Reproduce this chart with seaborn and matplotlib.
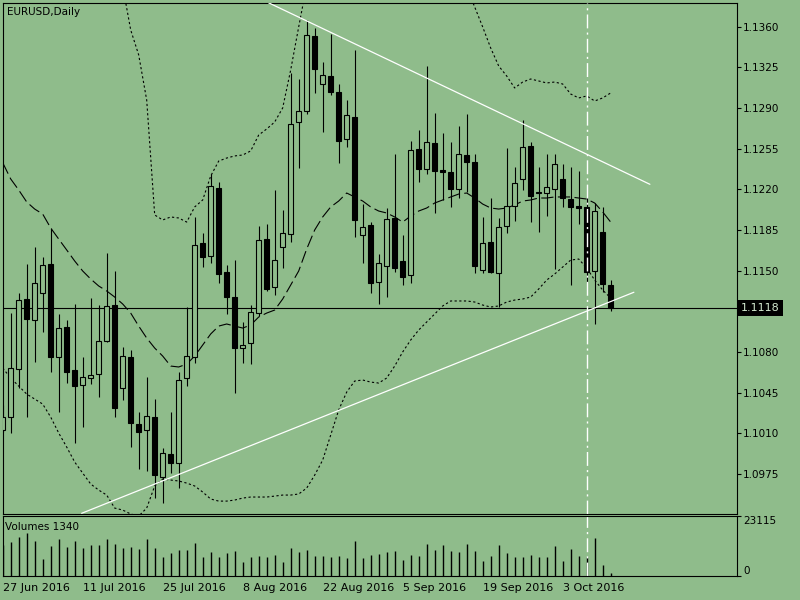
import numpy as np
import matplotlib
matplotlib.use("Agg")
import matplotlib.pyplot as plt
import matplotlib.transforms as mtransforms
import seaborn as sns

nan = np.nan

# daily EURUSD bars, 27 Jun 2016 .. 11 Oct 2016
opens = [1.10130, 1.10241, 1.10654, 1.11257, 1.11076, 1.11308, 1.11558, 1.10758, 1.11016, 1.10646,
         1.10517, 1.10577, 1.10611, 1.10895, 1.11205, 1.10491, 1.10758, 1.10181, 1.10130, 1.10241,
         1.09725, 1.09923, 1.09845, 1.10577, 1.10758, 1.11739, 1.11627, 1.12212, 1.11489, 1.11274,
         1.10835, 1.10878, 1.11136, 1.11773, 1.11360, 1.11704, 1.11816, 1.12780, 1.12875, 1.13520,
         1.13107, 1.13176, 1.13038, 1.12634, 1.12823, 1.11808, 1.11894, 1.11403, 1.11541, 1.11954,
         1.11584, 1.11463, 1.12548, 1.12376, 1.12599, 1.12367, 1.12350, 1.12204, 1.12496, 1.12436,
         1.11506, 1.11747, 1.11481, 1.11885, 1.12057, 1.12290, 1.12574, 1.12178, 1.12169, 1.12204,
         1.12290, 1.12117, 1.12057, 1.12049, 1.11498, 1.11833, 1.11377]
highs = [1.10345, 1.11136, 1.11308, 1.11558, 1.11704, 1.11618, 1.11868, 1.11128, 1.11076, 1.11214,
         1.10758, 1.11265, 1.11205, 1.11653, 1.11498, 1.10844, 1.10818, 1.10284, 1.10586, 1.10396,
         1.09975, 1.10284, 1.10629, 1.11188, 1.11963, 1.11825, 1.12333, 1.12264, 1.11549, 1.11592,
         1.11059, 1.11205, 1.11885, 1.11902, 1.12195, 1.12023, 1.13202, 1.13150, 1.13658, 1.13589,
         1.13296, 1.13537, 1.13107, 1.12969, 1.13400, 1.12074, 1.11919, 1.11644, 1.12040, 1.12505,
         1.11808, 1.12617, 1.12711, 1.13262, 1.12858, 1.12685, 1.12608, 1.12746, 1.12849, 1.12505,
         1.11963, 1.12126, 1.11954, 1.12556, 1.12393, 1.12797, 1.12608, 1.12393, 1.12505, 1.12505,
         1.12419, 1.12393, 1.12358, 1.12135, 1.12083, 1.12049, 1.11420]
lows = [1.10112, 1.10104, 1.10491, 1.10241, 1.10715, 1.10973, 1.10629, 1.10284, 1.10534, 1.10018,
        1.10155, 1.10525, 1.10413, 1.10887, 1.10241, 1.10388, 1.09983, 1.09794, 1.09777, 1.09544,
        1.09501, 1.09759, 1.09630, 1.10508, 1.10706, 1.11532, 1.11567, 1.11394, 1.11128, 1.10448,
        1.10706, 1.10697, 1.11111, 1.11326, 1.11291, 1.11524, 1.11747, 1.12384, 1.12849, 1.13030,
        1.12694, 1.13012, 1.12427, 1.12565, 1.11790, 1.11567, 1.11308, 1.11214, 1.11274, 1.11489,
        1.11377, 1.11394, 1.12264, 1.12333, 1.11997, 1.12109, 1.12049, 1.12126, 1.12178, 1.11481,
        1.11481, 1.11481, 1.11188, 1.11825, 1.11928, 1.12195, 1.11919, 1.11833, 1.11971, 1.11515,
        1.12049, 1.11377, 1.11902, 1.11394, 1.11042, 1.11317, 1.11154]
closes = [1.10241, 1.10663, 1.11248, 1.11085, 1.11395, 1.11549, 1.10758, 1.11007, 1.10629, 1.10508,
          1.10586, 1.10603, 1.10895, 1.11197, 1.10319, 1.10766, 1.10190, 1.10112, 1.10250, 1.09742,
          1.09932, 1.09845, 1.10560, 1.10766, 1.11722, 1.11618, 1.12229, 1.11472, 1.11274, 1.10835,
          1.10861, 1.11145, 1.11765, 1.11343, 1.11592, 1.11825, 1.12763, 1.12875, 1.13529, 1.13236,
          1.13185, 1.13038, 1.12617, 1.12840, 1.11937, 1.11876, 1.11394, 1.11567, 1.11945, 1.11524,
          1.11446, 1.12539, 1.12376, 1.12608, 1.12358, 1.12350, 1.12204, 1.12505, 1.12436, 1.11541,
          1.11739, 1.11489, 1.11876, 1.12057, 1.12255, 1.12565, 1.12143, 1.12169, 1.12221, 1.12419,
          1.12126, 1.12049, 1.12040, 1.11489, 1.12014, 1.11386, 1.11180]
volumes = [12000, 13200, 15070, 16650, 13480, 6740, 11500, 14270, 11100, 13480,
           10700, 11900, 11900, 14270, 12400, 10700, 11100, 10300, 14270, 10700,
           7530, 8850, 9900, 9900, 12800, 7530, 9120, 7530, 8850, 9500,
           5550, 7530, 7930, 7530, 8330, 5550, 10700, 9120, 9900, 7930,
           7930, 7530, 7930, 7140, 13480, 7140, 8330, 8450, 9120, 9500,
           6340, 8330, 7930, 12290, 9900, 11900, 9500, 9120, 12290, 9500,
           5950, 7930, 11900, 8720, 7530, 7530, 8330, 7530, 7530, 11500,
           5950, 10300, 7930, 7530, 14670, 4360, 1340]

# bollinger bands as drawn (upper band runs off the top in places)
bb_mid = [1.12430, 1.12290, 1.12195, 1.12092, 1.12031, 1.11988, 1.11868, 1.11773, 1.11679, 1.11584,
          1.11498, 1.11429, 1.11369, 1.11326, 1.11274, 1.11214, 1.11136, 1.11024, 1.10921, 1.10835,
          1.10766, 1.10680, 1.10672, 1.10697, 1.10766, 1.10861, 1.10956, 1.11024, 1.11042, 1.11024,
          1.11007, 1.11033, 1.11102, 1.11136, 1.11162, 1.11257, 1.11377, 1.11498, 1.11687, 1.11851,
          1.11963, 1.12049, 1.12100, 1.12169, 1.12135, 1.12100, 1.12049, 1.12014, 1.11997, 1.11963,
          1.11919, 1.11971, 1.12014, 1.12040, 1.12083, 1.12109, 1.12135, 1.12160, 1.12169, 1.12126,
          1.12074, 1.12040, 1.12031, 1.12040, 1.12066, 1.12100, 1.12109, 1.12126, 1.12126, 1.12135,
          1.12135, 1.12135, 1.12126, 1.12117, 1.12083, 1.12006, 1.11919]
bb_up = [nan, nan, nan, nan, nan, nan, nan, nan, nan, nan,
         nan, nan, nan, nan, nan, 1.13950, 1.13572, 1.13357, 1.12969, 1.11980,
         1.11937, 1.11963, 1.11954, 1.11919, 1.12049, 1.12109, 1.12315, 1.12444, 1.12470, 1.12488,
         1.12496, 1.12531, 1.12668, 1.12720, 1.12780, 1.12901, 1.13228, 1.13598, 1.13959, nan,
         nan, nan, nan, nan, nan, nan, nan, nan, nan, nan,
         nan, nan, nan, nan, nan, nan, nan, nan, 1.13942, 1.13770,
         1.13598, 1.13417, 1.13262, 1.13176, 1.13073, 1.13124, 1.13150, 1.13133, 1.13116, 1.13124,
         1.13107, 1.13021, 1.12987, 1.13004, 1.12961, 1.12987, 1.13030]
bb_low = [1.10663, 1.10577, 1.10508, 1.10439, 1.10396, 1.10353, 1.10241, 1.10104, 1.09983, 1.09854,
          1.09759, 1.09665, 1.09613, 1.09570, 1.09458, 1.09441, 1.09407, 1.09389, 1.09458, 1.09648,
          1.09708, 1.09699, 1.09691, 1.09673, 1.09648, 1.09596, 1.09536, 1.09518, 1.09518, 1.09527,
          1.09544, 1.09553, 1.09553, 1.09553, 1.09561, 1.09570, 1.09570, 1.09579, 1.09630, 1.09742,
          1.09871, 1.10086, 1.10302, 1.10456, 1.10551, 1.10560, 1.10542, 1.10534, 1.10577, 1.10680,
          1.10801, 1.10904, 1.10990, 1.11059, 1.11128, 1.11197, 1.11240, 1.11240, 1.11240, 1.11231,
          1.11205, 1.11188, 1.11197, 1.11231, 1.11248, 1.11257, 1.11274, 1.11343, 1.11420, 1.11472,
          1.11532, 1.11592, 1.11601, 1.11524, 1.11420, 1.11334, 1.11265]

# trendlines drawn on the chart (bar index, price)
trend_top_x = [33.2, 80.9]
trend_top_y = [1.13807, 1.12244]
trend_bot_x = [9.87, 78.9]
trend_bot_y = [1.09413, 1.11315]
separator_bar = 73
last_price = 1.1118
volume_label = "Volumes 1340"
volume_max = 23115

date_pos = [0, 10, 20, 30, 40, 50, 60, 70]
date_labels = ["27 Jun 2016", "11 Jul 2016", "25 Jul 2016", "8 Aug 2016",
               "22 Aug 2016", "5 Sep 2016", "19 Sep 2016", "3 Oct 2016"]
price_ticks = [1.0975, 1.1010, 1.1045, 1.1080, 1.1115, 1.1150,
               1.1185, 1.1220, 1.1255, 1.1290, 1.1325, 1.1360]

bg = "#8fbc8b"
sns.set_theme(style="white", rc={
    "axes.facecolor": bg, "figure.facecolor": bg, "axes.edgecolor": "black",
    "axes.linewidth": 0.8, "text.color": "black",
    "xtick.color": "black", "ytick.color": "black"})
plt.rcParams["font.family"] = ["DejaVu Sans"]

fig = plt.figure(figsize=(8, 6), dpi=100)
ax = fig.add_axes([3 / 800, 86 / 600, 734 / 800, 511 / 600])
axv = fig.add_axes([3 / 800, 24 / 600, 734 / 800, 60 / 600])

idx = np.arange(len(opens))
o = np.array(opens)
c = np.array(closes)

# ---- price panel ----
ax.axhline(last_price, color="black", lw=0.8, zorder=1)

ax.vlines(idx, lows, highs, color="black", lw=0.8, zorder=2)
body_bottom = np.minimum(o, c)
body_height = np.maximum(np.abs(c - o), 0.00008)
body_col = np.where(c >= o, bg, "black")
ax.bar(idx, body_height, bottom=body_bottom, width=0.55, color=body_col,
       edgecolor="black", linewidth=0.8, zorder=3)

dot = (0, (2, 2.2))
sns.lineplot(x=idx, y=bb_mid, ax=ax, color="black", lw=0.8, linestyle=(0, (11, 4)), zorder=2)
sns.lineplot(x=idx, y=bb_low, ax=ax, color="black", lw=0.8, linestyle=dot, zorder=2)
up = np.array(bb_up)
ok = ~np.isnan(up)
# split the upper band into its visible runs
runs = np.split(idx[ok], np.where(np.diff(idx[ok]) > 1)[0] + 1)
for r in runs:
    sns.lineplot(x=r, y=up[r], ax=ax, color="black", lw=0.8, linestyle=dot, zorder=2)

ax.plot(trend_top_x, trend_top_y, color="white", lw=0.9, zorder=4)
ax.plot(trend_bot_x, trend_bot_y, color="white", lw=0.9, zorder=4)
sep_style = (0, (10, 3, 1.5, 3))
ax.axvline(separator_bar, color="white", lw=1.0, linestyle=sep_style, zorder=4)

ax.set_xlim(0.0375, 91.79)
ax.set_ylim(1.09407, 1.13804)
ax.set_xticks([])
ax.yaxis.tick_right()
ax.set_yticks(price_ticks)
ax.set_yticklabels([f"{t:.4f}" for t in price_ticks])
ax.tick_params(axis="y", direction="out", length=3, width=0.8, pad=1.5, labelsize=7.5)
ax.set_xlabel("")
ax.set_ylabel("")

trans = mtransforms.blended_transform_factory(ax.transAxes, ax.transData)
ax.text(1.0055, last_price, f"{last_price:.4f}", transform=trans, ha="left", va="center",
        fontsize=8, color="#d4ead0", zorder=10,
        bbox=dict(boxstyle="square,pad=0.25", fc="black", ec="none"))

fig.text(7 / 800, 1 - 12 / 600, "EURUSD,Daily", ha="left", va="center", fontsize=7.5)

# ---- volume panel ----
axv.vlines(idx, 0, volumes, color="black", lw=1.0)
axv.axvline(separator_bar, color="white", lw=1.0, linestyle=sep_style)
axv.set_xlim(0.0375, 91.79)
axv.set_ylim(0, 23250)
axv.yaxis.tick_right()
axv.set_yticks([0, volume_max])
axv.set_yticklabels(["0", str(volume_max)])
for lbl, va in zip(axv.get_yticklabels(), ["bottom", "top"]):
    lbl.set_va(va)
axv.tick_params(axis="y", direction="out", length=3, width=0.8, pad=1.5, labelsize=7.5)
axv.set_xticks(date_pos)
axv.set_xticklabels(date_labels, ha="left")
axv.tick_params(axis="x", direction="out", length=4, width=0.8, pad=1, labelsize=8)
fig.text(5 / 800, 1 - 527 / 600, volume_label, ha="left", va="center", fontsize=7.5)

fig.savefig("out.png", dpi=100, facecolor=bg)
